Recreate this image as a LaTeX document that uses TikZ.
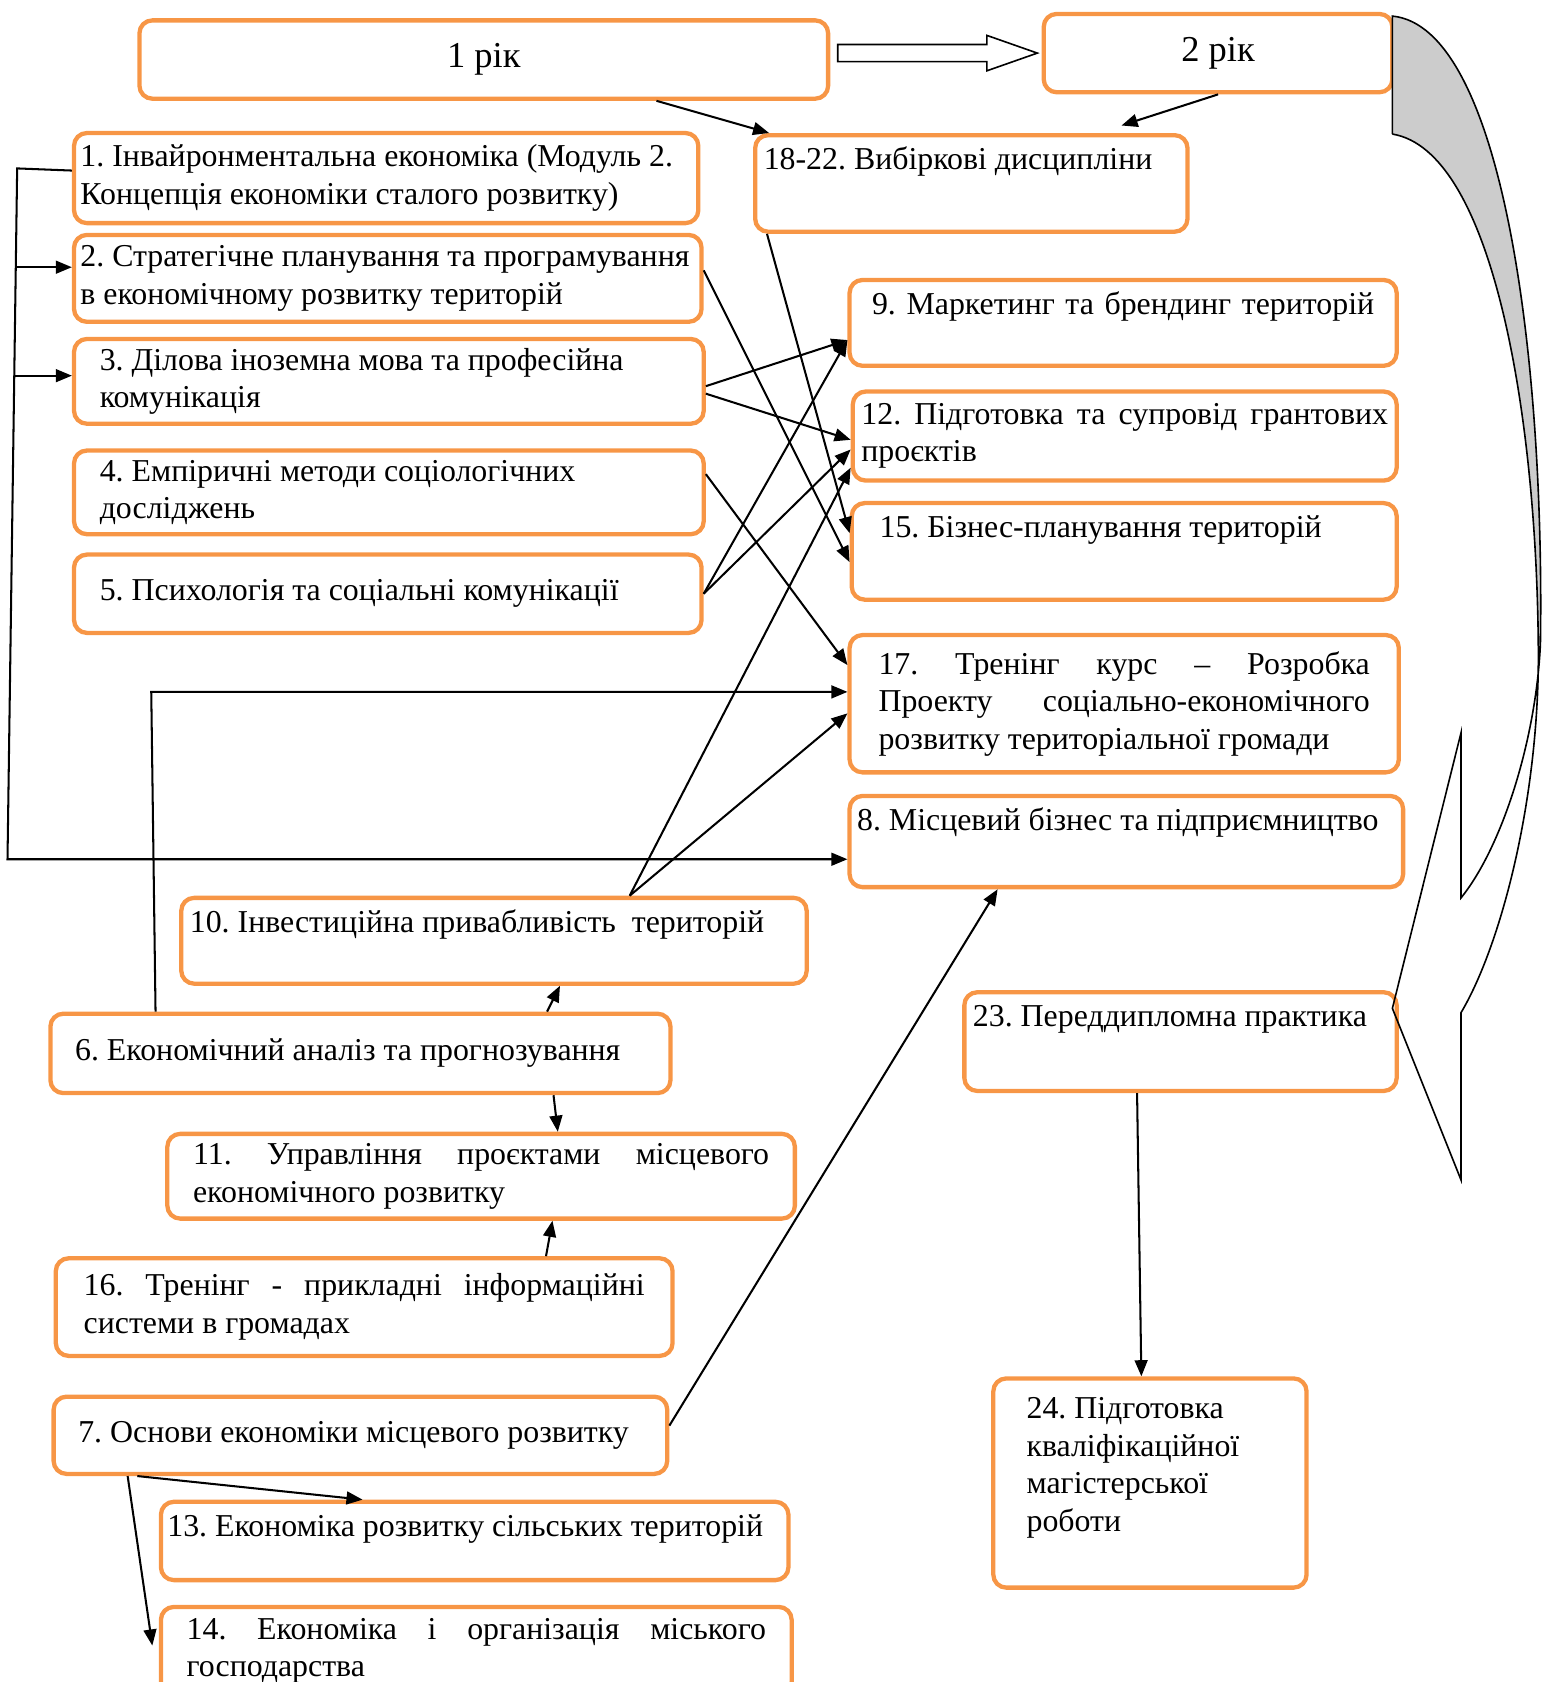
\documentclass[tikz,border=0pt]{standalone}
\usepackage{fontspec}
\setmainfont{Liberation Serif}
\usetikzlibrary{arrows.meta,calc}
\definecolor{subjorange}{HTML}{F79646}
\definecolor{bandgray}{HTML}{CCCCCC}
\hyphenpenalty=10000
\exhyphenpenalty=10000
\frenchspacing

\begin{document}
\begin{tikzpicture}[x=1pt, y=-1pt,
	every node/.style={font=\fontsize{29.7}{35}\selectfont},
	subj/.style={draw=subjorange, line width=4pt, rounded corners=12pt, anchor=north west, inner ysep=2pt, align=justify},
	topline/.style={text height=21pt, text depth=#1, inner ysep=11pt},
	year/.style={subj, align=center, inner xsep=0pt, font=\fontsize{34}{40}\selectfont},
	link/.style={line width=1.9pt, -{Triangle[length=15pt,width=12pt]}}]
	\useasboundingbox (0,0) rectangle (1437,1568);

	\node[year, minimum width=642pt, minimum height=73pt] (yr1) at (128,17) {1 рік};
	\node[year, minimum width=325pt, minimum height=73pt] (yr2) at (971,11) {2 рік};
	\node[subj, topline=47pt, inner xsep=8pt, text width=387pt] (el) at (702,124) {18-22. Вибіркові дисципліни};

	\node[subj, inner xsep=6pt, text width=570pt, minimum height=84pt] (s1) at (67,122) {1. Інвайронментальна економіка (Модуль 2.\\ Концепція економіки сталого розвитку)};
	\node[subj, inner xsep=6pt, text width=573pt, minimum height=81pt] (s2) at (67,217) {2. Стратегічне планування та програмування\\ в економічному розвитку територій};
	\node[subj, inner xsep=24pt, text width=539pt, minimum height=79pt] (s3) at (67,314) {3. Ділова іноземна мова та професійна\\ комунікація};
	\node[subj, inner xsep=24pt, text width=539pt, minimum height=78pt] (s4) at (67,418) {4. Емпіричні методи соціологічних\\ досліджень};
	\node[subj, inner xsep=24pt, text width=537pt, minimum height=73pt] (s5) at (67,515) {5. Психологія та соціальні комунікації};

	\node[subj, topline=37pt, align=center, inner xsep=15pt, text width=480pt] (s9) at (790,259) {9. Маркетинг та брендинг територій};
	\node[subj, inner xsep=8pt, text width=491pt, minimum height=83pt] (s12) at (793,363) {12. Підготовка та супровід грантових\linebreak проєктів};
	\node[subj, topline=47pt, inner xsep=26pt, text width=456pt] (s15) at (792,467) {15. Бізнес-планування територій};
	\node[subj, inner xsep=27pt, text width=458pt, minimum height=128pt] (s17) at (790,590) {17. Тренінг курс – Розробка\linebreak Проекту соціально-економічного\linebreak розвитку територіальної громади};
	\node[subj, topline=42pt, inner xsep=7pt, text width=502pt] (s8) at (790,740) {8. Місцевий бізнес та підприємництво};

	\node[subj, topline=37pt, inner xsep=8pt, text width=567pt] (s10) at (167,835) {10. Інвестиційна привабливість\ \ територій};
	\node[subj, inner xsep=23pt, text width=532pt, minimum height=74pt] (s6) at (45,943) {6. Економічний аналіз та прогнозування};
	\node[subj, inner xsep=24pt, text width=537pt, minimum height=79pt] (s11) at (154,1055) {11. Управління проєктами місцевого\linebreak економічного розвитку};
	\node[subj, inner xsep=26pt, text width=523pt, minimum height=91pt] (s16) at (50,1171) {16. Тренінг - прикладні інформаційні\linebreak системи в громадах};
	\node[subj, inner xsep=23pt, text width=526pt, minimum height=72pt] (s7) at (48,1300) {7. Основи економіки місцевого розвитку};
	\node[subj, topline=30pt, inner xsep=6pt, text width=573pt] (s13) at (148,1398) {13. Економіка розвитку сільських територій};
	\node[subj, inner xsep=24pt, text width=540pt, minimum height=82pt] (s14) at (148,1496) {14. Економіка і організація міського\linebreak господарства};

	\node[subj, topline=49pt, inner xsep=8pt, text width=387pt] (s23) at (897,923) {23. Переддипломна практика};
	\node[subj, inner xsep=31pt, text width=230pt, minimum height=195pt] (s24) at (924,1283) {24. Підготовка\\ кваліфікаційної\\ магістерської\\ роботи\\ \mbox{}};

	\coordinate (bt) at ($(yr1.east |- yr2.west)+(7,0)$);
	\coordinate (bh) at ($(yr2.west)+(-4,0)$);
	\draw[line width=1.5pt, fill=white] ($(bt)+(0,-8)$) -- ($(bh)+(-47,-8)$) -- ($(bh)+(-47,-16.5)$) -- (bh)
		-- ($(bh)+(-47,16.5)$) -- ($(bh)+(-47,8)$) -- ($(bt)+(0,8)$) -- cycle;
	\draw[link] ([xshift=161pt]yr1.south) -- ([xshift=15pt]el.north west);
	\draw[link] (yr2.south) -- ([xshift=140pt,yshift=7pt]el.north);

	\coordinate (lb1) at (16,157);
	\coordinate (lb2) at (7,801);
	\coordinate (b2) at ($(lb1)!0.143!(lb2)$);
	\coordinate (b3) at ($(lb1)!0.3!(lb2)$);
	\coordinate (lc) at (141,645);
	\draw[link] ([yshift=7pt]s1.west) -- (lb1) -- (lb2) -- (lb2 -| s8.west);
	\draw[link] (b2) -- (b2 -| s2.west);
	\draw[link] (b3) -- (b3 -| s3.west);
	\draw[link] ([xshift=100pt]s6.north west) -- (lc) -- (lc -| s17.west);

	\draw[link] ([yshift=7.5pt]s2.east) -- ([yshift=-10pt]s15.west);
	\draw[link] ([xshift=13pt]el.south west) -- ([yshift=17pt]s15.west);
	\draw[link] ([yshift=-4.5pt]s3.east) -- ([yshift=-16pt]s9.west);
	\draw[link] ([yshift=-11.5pt]s3.east) -- ([yshift=-3.5pt]s12.west);
	\draw[link] ([yshift=17pt]s4.east) -- ([yshift=36pt]s17.west);
	\draw[link] (s5.east) -- ([yshift=-16pt]s9.west);
	\draw[link] (s5.east) -- ([yshift=-12.5pt]s12.west);
	\draw[link] ([xshift=126.5pt]s10.north) -- ([yshift=-29.5pt]s12.west);
	\draw[link] ([xshift=126.5pt]s10.north) -- ([yshift=-9pt]s17.west);
	\draw[link] ([xshift=174pt]s6.north) -- ([xshift=61.5pt]s10.south);
	\draw[link] ([xshift=180pt]s6.south) -- ([xshift=71.5pt]s11.north);
	\draw[link] ([xshift=169.5pt]s16.north) -- ([xshift=66.5pt]s11.south);
	\draw[link] ([yshift=9pt]s7.east) -- ([xshift=140pt]s8.south west);
	\draw[link] ([xshift=80pt]s7.south west) -- ([xshift=190pt]s13.north west);
	\draw[link] ([xshift=71pt]s7.south west) -- ([xshift=-6pt,yshift=5pt]s14.west);
	\draw[link] ([xshift=-40.5pt]s23.south) -- ([xshift=-8pt]s24.north);

	\fill[bandgray] (1298,15) .. controls (1400,25) and (1440,330) .. (1436,600)
		-- (1434,600) .. controls (1432,380) and (1390,140) .. (1298,125) -- cycle;
	\draw[line width=1.5pt, line join=miter] (1298,125) -- (1298,15) .. controls (1400,25) and (1440,330) .. (1436,600)
		.. controls (1432,690) and (1400,790) .. (1362,837) -- (1362,683) -- (1298,940) -- (1362,1100) -- (1362,944)
		.. controls (1400,880) and (1436,740) .. (1434,600) .. controls (1432,380) and (1390,140) .. (1298,125);

\end{tikzpicture}
\end{document}
